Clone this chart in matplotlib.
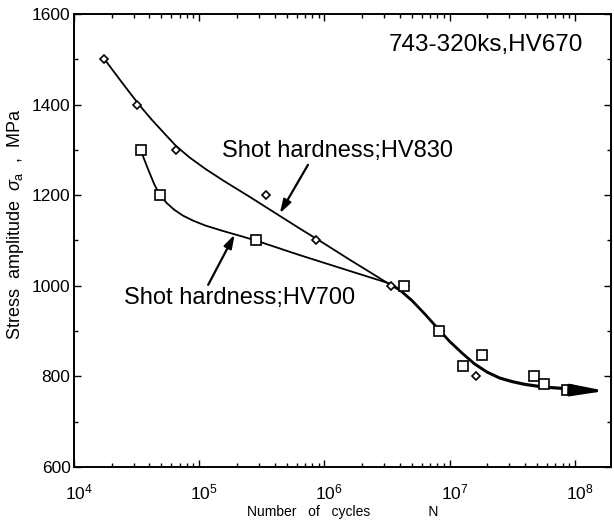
import numpy as np
import matplotlib
matplotlib.use('Agg')
import matplotlib.pyplot as plt
from matplotlib.ticker import FixedLocator, LogLocator, MultipleLocator, NullFormatter
import matplotlib.transforms as mtransforms

plt.rcParams['font.family'] = ['Liberation Sans', 'DejaVu Sans']
plt.rcParams['mathtext.fontset'] = 'custom'
plt.rcParams['mathtext.rm'] = 'Liberation Sans'
plt.rcParams['mathtext.it'] = 'Liberation Sans:italic'
plt.rcParams['mathtext.bf'] = 'Liberation Sans:bold'

# Messpunkte (Bruchlastspiele, Spannungsamplitude in MPa)
hv830_N = [1.75e4, 3.2e4, 6.5e4, 3.4e5, 8.5e5, 3.4e6, 8.4e6, 1.64e7]
hv830_s = [1500, 1400, 1300, 1200, 1100, 1000, 900, 800]

hv700_N = [3.4e4, 4.85e4, 2.83e5, 4.3e6, 8.3e6, 1.28e7, 1.82e7, 4.7e7, 5.7e7, 8.7e7]
hv700_s = [1300, 1200, 1100, 1000, 900, 822, 848, 800, 783, 770]

# Ausgleichskurven (von Hand gezogen)
kurve830_N = [1.754e4, 2.399e4, 3.258e4, 4.169e4, 5.248e4, 6.516e4, 8.318e4, 1.122e5,
              1.585e5, 2.512e5, 3.981e5, 6.310e5, 1.0e6, 1.585e6, 2.512e6, 3.327e6,
              3.981e6, 5.012e6, 6.310e6, 8.337e6, 1.0e7, 1.259e7, 1.585e7, 1.995e7,
              2.512e7, 3.162e7, 3.981e7, 5.012e7, 6.310e7, 7.943e7, 1.0e8, 1.202e8]
kurve830_s = [1500, 1450, 1402, 1367, 1337, 1309, 1284, 1258,
              1231, 1197, 1162, 1127, 1093, 1058, 1024, 1003,
              990, 966, 937, 900, 876, 850, 826, 808,
              795, 787, 781, 777, 774, 772, 770, 769]

kurve700_N = [3.404e4, 3.846e4, 4.365e4, 4.853e4, 5.495e4, 6.310e4, 7.413e4, 8.913e4,
              1.122e5, 1.549e5, 2.138e5, 2.831e5, 6.310e5, 1.585e6, 3.327e6,
              3.981e6, 5.012e6, 6.310e6, 8.337e6, 1.0e7, 1.259e7, 1.585e7, 1.995e7,
              2.512e7, 3.162e7, 3.981e7, 5.012e7, 6.310e7, 7.943e7, 1.0e8, 1.202e8]
kurve700_s = [1300, 1262, 1225, 1200, 1183, 1168, 1155, 1144,
              1133, 1121, 1110, 1100, 1068, 1033, 1005,
              993, 969, 940, 903, 879, 853, 829, 811,
              798, 790, 784, 780, 777, 775, 773, 771]

x_ticks = [1e4, 1e5, 1e6, 1e7, 1e8]
x_ticklabels = [r'$10^{4}$', r'$10^{5}$', r'$10^{6}$', r'$10^{7}$', r'$10^{8}$']
y_ticks = [600, 800, 1000, 1200, 1400, 1600]

fig = plt.figure(figsize=(6.14, 5.24), dpi=100)
ax = fig.add_axes([0.1205, 0.1088, 0.8746, 0.8645])

ax.plot(kurve830_N, kurve830_s, color='black', lw=1.3)
ax.plot(kurve700_N, kurve700_s, color='black', lw=1.3)
ax.plot(hv830_N, hv830_s, linestyle='none', marker='D', ms=4.0,
        mfc='white', mec='black', mew=1.2)
ax.plot(hv700_N, hv700_s, linestyle='none', marker='s', ms=6.5,
        mfc='white', mec='black', mew=1.2)

# Pfeil am Ende: Dauerfestigkeit
ax.annotate('', xy=(1.76e8, 768), xytext=(kurve830_N[-1], kurve830_s[-1]),
            arrowprops=dict(arrowstyle='-|>,head_length=2.0,head_width=0.35',
                            mutation_scale=10, color='black', lw=2.2,
                            shrinkA=0, shrinkB=0))

ax.annotate('', xy=(4.41e5, 1160), xytext=(7.4e5, 1267),
            arrowprops=dict(arrowstyle='-|>,head_length=0.8,head_width=0.25',
                            mutation_scale=10, color='black', lw=1.6,
                            shrinkA=0, shrinkB=0))
ax.text(1.52e5, 1297, 'Shot hardness;HV830', fontsize=17, ha='left', va='center')

ax.annotate('', xy=(1.92e5, 1113), xytext=(1.18e5, 1002),
            arrowprops=dict(arrowstyle='-|>,head_length=0.8,head_width=0.25',
                            mutation_scale=10, color='black', lw=1.6,
                            shrinkA=0, shrinkB=0))
ax.text(2.53e4, 974, 'Shot hardness;HV700', fontsize=17, ha='left', va='center')

ax.text(0.948, 0.932, '743-320ks,HV670', transform=ax.transAxes,
        fontsize=17.5, ha='right', va='center')

ax.set_xscale('log')
ax.set_xlim(1e4, 1.95e8)
ax.set_ylim(600, 1600)

ax.xaxis.set_major_locator(FixedLocator(x_ticks))
ax.set_xticklabels(x_ticklabels)
ax.xaxis.set_minor_locator(LogLocator(base=10, subs=np.arange(2, 10)))
ax.xaxis.set_minor_formatter(NullFormatter())
ax.set_yticks(y_ticks)
ax.yaxis.set_minor_locator(MultipleLocator(100))

ax.tick_params(which='both', direction='in', top=True, right=True, width=1.0)
ax.tick_params(which='major', length=5)
ax.tick_params(which='minor', length=3)
ax.tick_params(axis='y', labelsize=12.5, pad=2.5)
ax.tick_params(axis='x', labelsize=12.5, pad=11)

# Hochzahl-Beschriftung leicht nach rechts versetzt
versatz = mtransforms.ScaledTranslation(5 / 100, 0, fig.dpi_scale_trans)
for lab in ax.get_xticklabels():
    lab.set_transform(lab.get_transform() + versatz)

for sp in ax.spines.values():
    sp.set_linewidth(1.4)

ax.set_xlabel('Number   of   cycles' + ' ' * 15 + 'N', fontsize=10)
ax.xaxis.set_label_coords(0.5, -0.083)
ax.set_ylabel(r'Stress  amplitude  $\sigma_{\rm a}$  ,  MPa', fontsize=13)
ax.yaxis.set_label_coords(-0.09, 0.536)

fig.savefig('out.png', dpi=100)
